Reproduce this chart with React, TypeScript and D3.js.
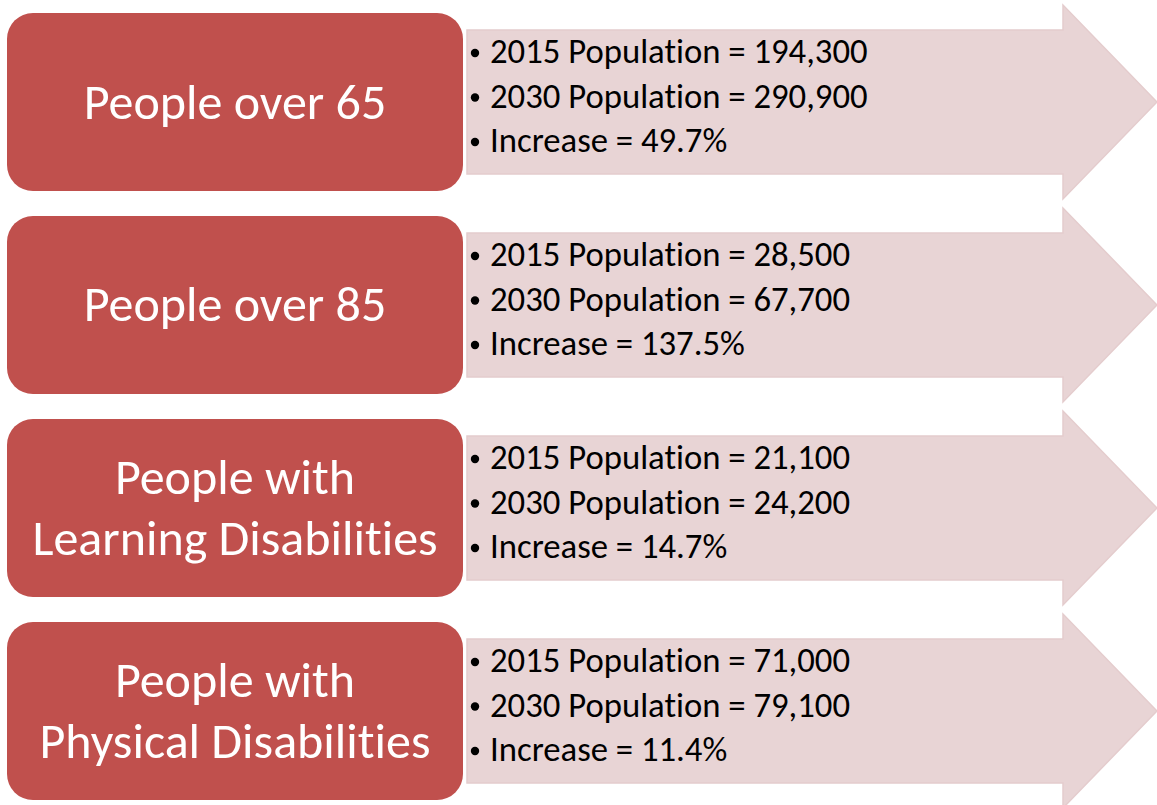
import React, { useEffect, useRef } from "react";
import * as d3 from "d3";

const categories = [
  "People over 65",
  "People over 85",
  "People with\nLearning Disabilities",
  "People with\nPhysical Disabilities",
];
const pop2015 = [194300, 28500, 21100, 71000];
const pop2030 = [290900, 67700, 24200, 79100];
const increase = [49.7, 137.5, 14.7, 11.4];

const W = 1157;
const H = 805;

const App = () => {
  const ref = useRef<SVGSVGElement>(null);

  useEffect(() => {
    document.body.style.margin = "0";
    const svg = d3.select(ref.current);
    svg.selectAll("*").remove();

    // one row per category
    const y = d3
      .scaleBand<number>()
      .domain(d3.range(categories.length))
      .range([5, 808])
      .paddingInner(0.0443);
    const band = y.bandwidth();

    const boxX0 = 7;
    const boxX1 = 463;
    const bodyX0 = 467;
    const headX = 1063;
    const tipX = 1157;
    const bodyInset = 25;
    const boxInset = 8;

    const fmt = d3.format(",");
    const font = "Carlito, Lato, 'Open Sans', sans-serif";

    const rows = svg
      .selectAll("g.row")
      .data(d3.range(categories.length))
      .enter()
      .append("g")
      .attr("class", "row")
      .attr("transform", (i) => `translate(0, ${y(i)})`);

    // arrow
    rows
      .append("path")
      .attr("d", () => {
        const p = d3.path();
        p.moveTo(bodyX0, bodyInset);
        p.lineTo(headX, bodyInset);
        p.lineTo(headX, 0);
        p.lineTo(tipX, band / 2);
        p.lineTo(headX, band);
        p.lineTo(headX, band - bodyInset);
        p.lineTo(bodyX0, band - bodyInset);
        p.closePath();
        return p.toString();
      })
      .attr("fill", "#E8D4D5")
      .attr("stroke", "#E4CCCD")
      .attr("stroke-width", 1.5);

    // red label box
    rows
      .append("rect")
      .attr("x", boxX0)
      .attr("y", boxInset)
      .attr("width", boxX1 - boxX0)
      .attr("height", band - 2 * boxInset)
      .attr("rx", 26)
      .attr("ry", 26)
      .attr("fill", "#C0504D");

    const labelSize = 50;
    const lineGap = 61;
    rows.each(function (i) {
      const g = d3.select(this);
      const lines = categories[i].split("\n");
      const cx = (boxX0 + boxX1) / 2;
      const cy = band / 2;
      const label = g
        .append("text")
        .attr("text-anchor", "middle")
        .attr("fill", "#ffffff")
        .style("font-family", font)
        .style("font-size", `${labelSize}px`)
        .style("font-variant-ligatures", "none");
      lines.forEach((ln, k) => {
        const off = (k - (lines.length - 1) / 2) * lineGap;
        label
          .append("tspan")
          .attr("x", cx)
          .attr("y", cy + off + labelSize * 0.33)
          .text(ln);
      });

      const items = [
        `2015 Population = ${fmt(pop2015[i])}`,
        `2030 Population = ${fmt(pop2030[i])}`,
        `Increase = ${increase[i].toFixed(1)}%`,
      ];
      const bulletSize = 34.7;
      items.forEach((t, k) => {
        const yy = 47 + k * 44.5 + bulletSize * 0.33;
        g.append("circle")
          .attr("cx", 475)
          .attr("cy", yy - bulletSize * 0.3)
          .attr("r", 4.2)
          .attr("fill", "#000");
        g.append("text")
          .attr("x", 490)
          .attr("y", yy)
          .attr("fill", "#000")
          .style("font-family", font)
          .style("font-size", `${bulletSize}px`)
          .style("font-variant-ligatures", "none")
          .text(t);
      });
    });
  }, []);

  return (
    <svg
      ref={ref}
      width={W}
      height={H}
      style={{ display: "block", background: "#fff" }}
    />
  );
};

export default App;
